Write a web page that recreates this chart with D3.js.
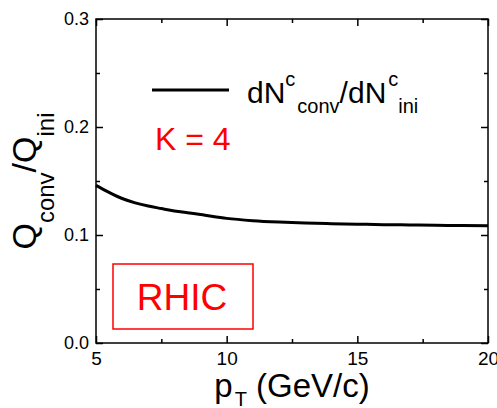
<!DOCTYPE html>
<html>
<head>
<meta charset="utf-8">
<script src="https://cdn.jsdelivr.net/npm/d3@7"></script>
<style>
  body { margin: 0; background: #fff; }
  text { font-family: "Liberation Sans", Arial, sans-serif; }
</style>
</head>
<body>
<div id="container"></div>
<script>
// values
const pT = [5, 5.5, 6, 6.5, 7, 7.5, 8, 8.5, 9, 10, 11, 12, 13, 14, 15, 16, 17, 18, 19, 20];
const ratio = [0.146, 0.1395, 0.1338, 0.1298, 0.1268, 0.1245, 0.1223, 0.1206, 0.1190, 0.1154, 0.1133, 0.1120, 0.1111, 0.1105, 0.1100, 0.1096, 0.1093, 0.1090, 0.1088, 0.1086];
const xTicks = [5, 10, 15, 20];
const xMinor = [7.5, 12.5, 17.5];
const yTicks = [0.0, 0.1, 0.2, 0.3];
const yMinor = [0.05, 0.15, 0.25];

const width = 497;
const height = 408;
const margin = { left: 96, right: 9, top: 19, bottom: 65 };

const x = d3.scaleLinear().domain([5, 20]).range([margin.left, width - margin.right]);
const y = d3.scaleLinear().domain([0, 0.3]).range([height - margin.bottom, margin.top]);

const svg = d3.select("#container").append("svg")
    .attr("width", width)
    .attr("height", height);

function styleAxis(g) {
  g.select(".domain").remove();
  g.selectAll("line").attr("stroke", "#000").attr("stroke-width", 1.5);
  g.selectAll("text").attr("fill", "#000").attr("font-family", "Liberation Sans, Arial, sans-serif");
}

// bottom
svg.append("g")
  .attr("transform", "translate(0," + y(0) + ")")
  .call(d3.axisBottom(x).tickValues(xTicks).tickSize(-7).tickPadding(9).tickFormat(d3.format("d")))
  .call(styleAxis)
  .selectAll("text").attr("font-size", 19);
svg.append("g")
  .attr("transform", "translate(0," + y(0) + ")")
  .call(d3.axisBottom(x).tickValues(xMinor).tickSize(-4).tickFormat(""))
  .call(styleAxis);
// top
svg.append("g")
  .attr("transform", "translate(0," + y(0.3) + ")")
  .call(d3.axisTop(x).tickValues(xTicks).tickSize(-7).tickFormat(""))
  .call(styleAxis);
svg.append("g")
  .attr("transform", "translate(0," + y(0.3) + ")")
  .call(d3.axisTop(x).tickValues(xMinor).tickSize(-4).tickFormat(""))
  .call(styleAxis);
// left
svg.append("g")
  .attr("transform", "translate(" + x(5) + ",0)")
  .call(d3.axisLeft(y).tickValues(yTicks).tickSize(-7).tickPadding(7).tickFormat(d3.format(".1f")))
  .call(styleAxis)
  .selectAll("text").attr("font-size", 18);
svg.append("g")
  .attr("transform", "translate(" + x(5) + ",0)")
  .call(d3.axisLeft(y).tickValues(yMinor).tickSize(-4).tickFormat(""))
  .call(styleAxis);
// right
svg.append("g")
  .attr("transform", "translate(" + x(20) + ",0)")
  .call(d3.axisRight(y).tickValues(yTicks).tickSize(-7).tickFormat(""))
  .call(styleAxis);
svg.append("g")
  .attr("transform", "translate(" + x(20) + ",0)")
  .call(d3.axisRight(y).tickValues(yMinor).tickSize(-4).tickFormat(""))
  .call(styleAxis);

// frame
svg.append("rect")
  .attr("x", x(5)).attr("y", y(0.3))
  .attr("width", x(20) - x(5)).attr("height", y(0) - y(0.3))
  .attr("fill", "none").attr("stroke", "#000").attr("stroke-width", 1.5);

// curve
const line = d3.line()
  .x((d, i) => x(pT[i]))
  .y(d => y(d))
  .curve(d3.curveMonotoneX);

svg.append("path")
  .datum(ratio)
  .attr("d", line)
  .attr("fill", "none")
  .attr("stroke", "#000")
  .attr("stroke-width", 3);

// legend
svg.append("line")
  .attr("x1", 152).attr("x2", 229).attr("y1", 90).attr("y2", 90)
  .attr("stroke", "#000").attr("stroke-width", 3);

const leg = svg.append("text").attr("x", 247).attr("y", 103).attr("font-size", 30).attr("fill", "#000");
leg.append("tspan").text("dN");
leg.append("tspan").attr("font-size", 20).attr("dy", -17).text("c");
leg.append("tspan").attr("font-size", 20).attr("dy", 27).attr("dx", 2).text("conv");
leg.append("tspan").attr("dy", -10).text("/dN");
leg.append("tspan").attr("font-size", 20).attr("dy", -17).attr("dx", 2).text("c");
leg.append("tspan").attr("font-size", 20).attr("dy", 27).text("ini");

svg.append("text")
  .attr("x", 155).attr("y", 150)
  .attr("font-size", 32).attr("fill", "#ff0000")
  .text("K = 4");

// RHIC box
svg.append("rect")
  .attr("x", 113).attr("y", 264).attr("width", 140).attr("height", 65)
  .attr("fill", "none").attr("stroke", "#ff0000").attr("stroke-width", 1.5);
svg.append("text")
  .attr("x", 182).attr("y", 310)
  .attr("text-anchor", "middle")
  .attr("font-size", 37).attr("fill", "#ff0000")
  .text("RHIC");

// axis titles
const xt = svg.append("text")
  .attr("x", (x(5) + x(20)) / 2).attr("y", 397)
  .attr("text-anchor", "middle").attr("font-size", 33).attr("fill", "#000");
xt.append("tspan").text("p");
xt.append("tspan").attr("font-size", 20).attr("dy", 9).attr("dx", 2).text("T");
xt.append("tspan").attr("dy", -9).text(" (GeV/c)");

const yt = svg.append("text")
  .attr("transform", "translate(36," + (y(0) + y(0.3)) / 2 + ") rotate(-90)")
  .attr("text-anchor", "middle").attr("font-size", 34).attr("fill", "#000");
yt.append("tspan").text("Q");
yt.append("tspan").attr("font-size", 24).attr("dy", 18).text("conv");
yt.append("tspan").attr("dy", -18).text("/Q");
yt.append("tspan").attr("font-size", 24).attr("dy", 18).text("ini");
</script>
</body>
</html>
